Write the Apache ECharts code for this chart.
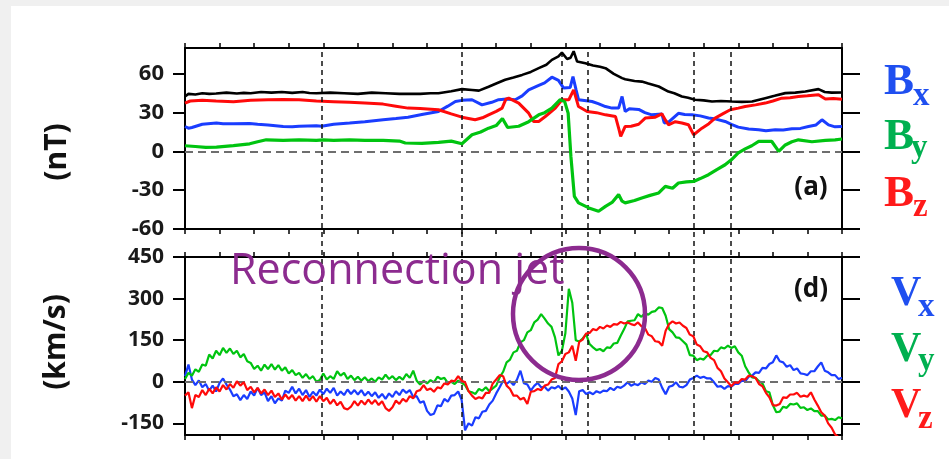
<!DOCTYPE html>
<html><head><meta charset="utf-8">
<script src="https://cdn.jsdelivr.net/npm/echarts@6/dist/echarts.min.js"></script>
<style>
html,body{margin:0;padding:0;background:#f0f0f0;width:949px;height:459px;overflow:hidden}
#paper{position:absolute;left:11px;top:6px;width:938px;height:453px;background:#fff}
#chart{position:absolute;left:0;top:0;width:949px;height:459px}
</style></head><body>
<div id="paper"></div><div id="chart"></div>
<script>
// ---------------- data ----------------
const X_MIN = 0, X_MAX = 190;            // time axis (arbitrary units, 10 per tick)
const bTicks = [-60, -30, 0, 30, 60];
const vTicks = [-150, 0, 150, 300, 450];
const eventTimes = [39.5, 80.1, 109, 116.5, 147, 157.7];

// magnetic field (nT): [time, value]
const bTotal = [[0,42.5],[1,44.5],[3,44],[5,45],[7,44.5],[9,44.8],[12,45.5],[15,44.8],[17,45.3],[19,45],[22,46],[25,45.5],[28,46],[31,45.3],[34,46],[36,45.2],[38,45],[42,45.5],[46,45],[50,44.5],[54,45.5],[58,45],[62,44.5],[64,44.5],[68,44.5],[71,45],[73.3,45],[77,46.5],[80.1,48.2],[83,47.5],[85,47],[87.8,50],[90,52.5],[92.6,55.4],[95,57.2],[97.5,59.2],[100,61.5],[102.3,64.4],[104.5,67],[106.1,70.8],[108,73.5],[109,76.4],[110.5,71.5],[111.5,72.5],[112.4,77.5],[113.4,69.5],[115.8,68.2],[118,66.5],[120,65.5],[121.6,64.4],[124,60],[126.4,56.7],[127.3,55.9],[130,54.5],[132.1,54],[134,52.5],[137,50.2],[139.8,46.3],[141.5,45],[143.7,42.5],[145.5,41.5],[147.5,40],[150,39.5],[152.4,38.6],[155,39],[158.2,38.6],[161,38.3],[164,38.6],[167.8,41.2],[170.5,43],[173.6,45.1],[176.5,45.5],[179.4,46.3],[183.2,48.2],[185,46],[187,45.5],[190,45.6]];
const bX = [[0,19.3],[1,18],[2,18.5],[5,21],[9.1,21.9],[11,21.5],[14,21.5],[18.7,21.6],[21,21],[24,20.5],[28.4,19.3],[31,19],[33,19.5],[38,19.8],[39.5,19.5],[40,21],[43,21],[47.6,21.9],[52,23],[57.3,24.5],[61,25.5],[64.5,26.5],[68.5,28.5],[73.3,30.9],[76,35],[78.2,38.6],[80.1,39.5],[83,40],[85.9,36],[88.7,38],[90.7,40],[93,40.5],[95.5,40],[97.5,43],[99.4,47.6],[102.3,51],[104,53],[106.1,57.4],[108,55],[109.5,49],[111.4,49.5],[112.2,57.9],[113.1,47.6],[113.8,40],[117.7,38.6],[119.5,37],[121.6,34.7],[123.5,33.5],[125.4,33.5],[126.4,42.5],[127.3,30.9],[128.5,33],[131.2,32.5],[133,30],[135,28.3],[137.9,29],[138.6,22],[140,23],[142.7,29.5],[144.5,28.5],[146.6,28.3],[149,27.5],[151.4,25.8],[153.5,25],[156.2,23.2],[158,21],[160,18.8],[163,17.3],[165.9,16.8],[168,16],[170.7,16.8],[173,16.5],[175.5,17.5],[178,17.8],[180.3,19.3],[182.5,20.5],[184.2,24.5],[186.1,20.5],[188,19],[190,19.3]];
const bY = [[0,4.4],[3,3.8],[6,3.2],[9.1,3.4],[14,4.5],[18.7,5.9],[21,7.5],[23.5,9],[28.4,8.5],[33,9],[38,8.5],[40,9],[43,8.5],[47.6,9],[52,8.5],[57.3,8.6],[62,8],[63.7,6.5],[68.5,6.2],[73.3,7],[77,8],[80.1,5.9],[83,12.9],[85.5,15],[87.8,18],[90,20],[91.8,25.5],[93.3,18.5],[96.5,19.5],[99.4,23],[102.3,28.3],[104,30],[106.1,33.5],[108.5,40],[109.8,38.5],[110.8,29.6],[111.6,-3.9],[112.6,-34.7],[113.8,-39.8],[116.8,-43.7],[119.6,-46.3],[121.6,-42.5],[123.5,-39.5],[125.4,-33.4],[126.4,-38.5],[127.3,-39.8],[130,-38],[132.1,-36],[134.5,-34],[137,-32.1],[138.9,-27],[141,-28.5],[142.7,-24.4],[145,-23.5],[147.1,-23.2],[149,-21],[151.4,-18],[153.8,-14],[156.2,-10.3],[158,-6.5],[160,-1.2],[162,2],[163.9,4.4],[165.9,7.7],[169.7,7.7],[171.7,0],[173.6,5],[175.5,7.5],[177.4,9],[181.3,7.5],[185.2,8.5],[188,9],[190,9.6]];
const bZ = [[0,37.4],[1.5,39],[5,39.5],[9,39],[14,38.5],[19,39.5],[24,40],[28.4,40.2],[33,40],[38,39],[43,38.5],[47.6,38],[52,37.5],[57.3,36.6],[61,35],[64.5,33.5],[68,33.2],[73.3,32.2],[77,29],[80.1,26.5],[83.9,24.5],[86,26],[87.8,28.3],[90,31],[91.7,33.5],[92.8,40.5],[93.6,41.2],[96.5,37.4],[99.4,29.6],[100.8,23.2],[102.3,23.2],[104.2,27],[107.1,33.5],[109,40],[111,40],[112.4,47.6],[113.8,34.7],[116.3,30.9],[119,30],[121.6,28.3],[124.5,27],[125.5,17],[126,11.6],[127.3,19.3],[129,19.5],[131.2,21],[133.1,25.8],[136,26.5],[137.9,29.1],[139,24],[139.8,20.6],[141.8,23],[143.7,22],[145.6,20.6],[147.1,12.9],[149.5,18],[151.5,21.5],[153.3,25.8],[155.5,29],[157.7,32.2],[160,33.5],[162,34.7],[165,36],[167.8,37.4],[170,39],[172.6,41.2],[175,41.5],[177.4,42.5],[180,43],[183.2,43.8],[185.2,40.5],[187.5,41],[190,40.4]];

// velocity (km/s), one sample per time unit starting at t = 0
const vX = [20,62,8,-12,5,-20,-8,-32,-14,-35,
 -4,12,-10,-28,-52,-45,-66,-48,-62,-35,
 -50,-22,-48,-38,-70,-52,-78,-60,-68,-32,
 -40,-18,-42,-25,-48,-30,-55,-36,-50,-28,
 -45,-25,-40,-22,-50,-35,-48,-28,-44,-30,
 -46,-30,-50,-36,-52,-38,-58,-44,-62,-42,
 -55,-34,-48,-28,-40,-30,-55,-52,-76,-70,
 -105,-120,-115,-85,-88,-62,-72,-50,-48,-35,
 -65,-175,-150,-158,-128,-132,-108,-105,-82,-68,
 -42,-20,4,-8,2,-12,8,40,-5,-10,
 -32,-15,-4,-20,-18,-32,-20,-24,-15,-28,
 -20,-35,-60,-120,-34,-30,-44,-38,-45,-34,
 -40,-32,-34,-22,-30,-18,-22,-14,-2,-14,
 -8,-12,-2,-8,4,0,14,8,-22,-45,
 -18,-14,-2,-18,-20,-12,8,14,22,14,
 18,12,12,-2,-18,-16,-26,-16,-18,-8,
 -8,4,2,18,22,34,32,50,48,64,
 70,95,74,70,54,60,42,48,30,28,
 24,38,38,55,70,40,34,24,24,10,
 14];
const vY = [10,32,22,45,36,62,58,98,84,112,
 96,122,104,120,100,112,88,100,74,68,
 46,58,40,62,46,64,44,60,40,52,
 30,42,24,32,14,28,10,20,0,6,
 30,8,20,10,38,22,32,10,22,6,
 18,4,16,2,12,0,16,8,26,10,
 20,6,18,8,28,14,40,4,-10,4,
 -6,6,-2,18,10,14,-4,0,-8,4,
 -4,-12,-34,-38,-44,-26,-32,-20,-34,-24,
 -14,16,36,70,80,106,112,142,150,178,
 186,214,224,244,228,210,198,160,95,112,
 175,335,285,150,145,156,172,136,124,114,
 118,110,124,122,138,140,166,190,218,220,
 222,244,234,248,242,252,255,268,266,238,
 190,178,160,158,146,134,96,94,78,84,
 80,94,96,112,110,124,120,130,122,128,
 106,94,56,34,16,14,2,-6,-34,-38,
 -84,-110,-108,-90,-94,-80,-82,-78,-94,-92,
 -102,-96,-106,-106,-122,-122,-136,-134,-138,-128,
 -132];
const vZ = [-50,-38,-95,-48,-55,-30,-48,-25,-42,-20,
 -35,-12,-28,-8,-22,2,-14,-2,-30,-18,
 -38,-22,-42,-28,-48,-32,-55,-42,-64,-46,
 -62,-48,-68,-52,-70,-50,-68,-52,-72,-52,
 -70,-58,-80,-64,-85,-72,-95,-100,-90,-70,
 -86,-68,-82,-64,-80,-66,-84,-70,-95,-105,
 -92,-68,-80,-62,-72,-52,-60,-34,-30,-12,
 -30,-24,-36,-20,-24,-6,-10,4,2,20,
 4,-2,-34,-50,-62,-56,-60,-40,-40,-6,
 8,24,20,-14,-26,-50,-50,-64,-58,-80,
 -36,-34,-26,-30,-14,-10,8,14,64,74,
 100,106,130,76,144,152,174,176,190,186,
 198,192,203,198,208,206,216,210,214,208,
 204,214,200,194,170,164,146,144,130,184,
 208,218,210,214,202,194,170,164,134,128,
 110,106,86,78,50,38,12,-2,-16,-2,
 -4,10,8,22,20,14,-8,-16,-40,-56,
 -84,-86,-80,-56,-58,-46,-46,-40,-54,-50,
 -54,-38,-64,-86,-110,-122,-150,-166,-190,-200,
 -215];

// ---------------- chart ----------------
const toPairs = arr => arr.map((v, i) => [X_MIN + i, v]);
const AX = '#000';
const FONT = '"Open Sans", "DejaVu Sans", sans-serif';

function mkX(gi, pos, show) {
  return {gridIndex: gi, type: 'value', position: pos, min: X_MIN, max: X_MAX, interval: 10, show: show !== false,
    axisLine: {show: true, onZero: false, lineStyle: {color: AX, width: 2}},
    axisTick: {show: true, inside: false, length: 5, lineStyle: {color: AX, width: 1.5}},
    axisLabel: {show: false}, splitLine: {show: false}};
}
function mkY(gi, pos, min, max, ticks, fs) {
  const left = pos === 'left';
  return {gridIndex: gi, type: 'value', position: pos, min: min, max: max,
    axisLine: {show: true, onZero: false, lineStyle: {color: AX, width: 2}},
    axisTick: {show: true, inside: false, length: left ? 12 : 18, customValues: ticks, lineStyle: {color: AX, width: 2}},
    axisLabel: {show: left, customValues: ticks, margin: 21, color: '#1a1a1a', fontFamily: FONT, fontWeight: 'bold', fontSize: fs},
    splitLine: {show: false}};
}
function line(data, xi, yi, color, w, z) {
  return {type: 'line', xAxisIndex: xi, yAxisIndex: yi, data: data, showSymbol: false, symbol: 'none',
    lineStyle: {color: color, width: w}, itemStyle: {color: color}, z: z, silent: true, animation: false};
}
function refLine(xi, yi, markData, style, z) {
  return {type: 'line', xAxisIndex: xi, yAxisIndex: yi, data: [], showSymbol: false, z: z, silent: true,
    markLine: {silent: true, symbol: 'none', animation: false, label: {show: false}, lineStyle: style, data: markData}};
}

const C_BLUE = '#1a3dff', C_GREEN = '#00c410', C_RED = '#ff0a0a';
const L_BLUE = '#1f4ff0', L_GREEN = '#00b050', L_RED = '#ff1a1a', PURPLE = '#8c2b8f';

function legendPair(big, sub, x, yBig, ySub, xSub, color, fsBig) {
  return [
    {type: 'text', x: x, y: yBig, z: 100, style: {text: big, font: 'bold ' + fsBig + 'px "Liberation Serif", serif', fill: color, align: 'left', verticalAlign: 'middle'}},
    {type: 'text', x: xSub, y: ySub, z: 100, style: {text: sub, font: 'bold 33px "Liberation Serif", serif', fill: color, align: 'left', verticalAlign: 'middle'}}
  ];
}

const option = {
  animation: false,
  backgroundColor: 'transparent',
  grid: [
    {left: 185, top: 48, width: 657, height: 181},
    {left: 185, top: 257, width: 657, height: 178},
    {left: 185, top: 48, width: 657, height: 387}
  ],
  xAxis: [mkX(0, 'bottom'), mkX(0, 'top'), mkX(1, 'bottom'), mkX(1, 'top'), mkX(2, 'bottom', false)],
  yAxis: [
    mkY(0, 'left', -60, 80, bTicks, 22), mkY(0, 'right', -60, 80, bTicks, 22),
    mkY(1, 'left', -192, 450, vTicks, 21), mkY(1, 'right', -192, 450, vTicks, 21),
    {gridIndex: 2, type: 'value', min: 0, max: 1, show: false}
  ],
  series: [
    refLine(4, 4, eventTimes.map(t => ({xAxis: t})), {color: '#111', type: [5, 4], width: 1.5}, 1),
    refLine(0, 0, [{yAxis: 0}], {color: '#6e6e6e', type: [8, 5], width: 2}, 1),
    refLine(2, 2, [{yAxis: 0}], {color: '#6e6e6e', type: [8, 5], width: 2}, 1),
    line(bX, 0, 0, C_BLUE, 3, 3),
    line(bZ, 0, 0, C_RED, 3, 4),
    line(bY, 0, 0, C_GREEN, 3.2, 5),
    line(bTotal, 0, 0, '#000', 2.6, 6),
    line(toPairs(vX), 2, 2, C_BLUE, 2.2, 3),
    line(toPairs(vY), 2, 2, C_GREEN, 2.2, 4),
    line(toPairs(vZ), 2, 2, C_RED, 2.2, 5)
  ],
  graphic: {elements: [
    {type: 'text', x: 57, y: 152, rotation: Math.PI / 2, z: 100, style: {text: '(nT)', font: 'bold 30px ' + FONT, fill: '#111', align: 'center', verticalAlign: 'middle'}},
    {type: 'text', x: 56, y: 342, rotation: Math.PI / 2, z: 100, style: {text: '(km/s)', font: 'bold 30px ' + FONT, fill: '#111', align: 'center', verticalAlign: 'middle'}},
    {type: 'text', x: 811, y: 188, z: 100, style: {text: '(a)', font: 'bold 26px ' + FONT, fill: '#111', align: 'center', verticalAlign: 'middle'}},
    {type: 'text', x: 811, y: 290, z: 100, style: {text: '(d)', font: 'bold 26px ' + FONT, fill: '#111', align: 'center', verticalAlign: 'middle'}},
    ...legendPair('B', 'x', 884, 82, 96, 913, L_BLUE, 45),
    ...legendPair('B', 'y', 884, 137, 148, 911, L_GREEN, 45),
    ...legendPair('B', 'z', 884, 194, 207, 913, L_RED, 45),
    ...legendPair('V', 'x', 891, 294, 307, 918, L_BLUE, 42),
    ...legendPair('V', 'y', 891, 350, 361, 918, L_GREEN, 42),
    ...legendPair('V', 'z', 891, 406, 419, 918, L_RED, 42),
    {type: 'text', x: 230, y: 272, z: 100, style: {text: 'Reconnection jet', font: '43px ' + FONT, fill: PURPLE, align: 'left', verticalAlign: 'middle'}},
    {type: 'circle', z: 101, shape: {cx: 579, cy: 314, r: 66}, style: {fill: 'none', stroke: PURPLE, lineWidth: 4.5}}
  ]}
};

const chart = echarts.init(document.getElementById('chart'));
chart.setOption(option);
</script>
</body></html>
